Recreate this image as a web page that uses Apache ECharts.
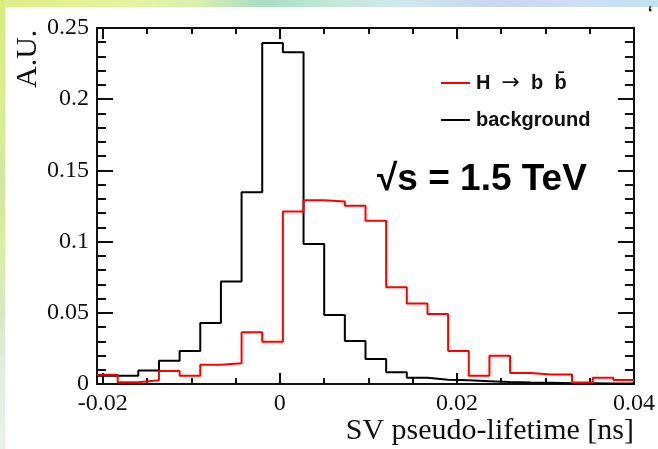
<!DOCTYPE html>
<html>
<head>
<meta charset="utf-8">
<script src="https://cdn.jsdelivr.net/npm/echarts@6/dist/echarts.min.js"></script>
<style>
  html, body { margin: 0; padding: 0; width: 658px; height: 449px; overflow: hidden; }
  #bgTop { position: absolute; left: 0; top: 0; width: 658px; height: 7px;
    background: linear-gradient(90deg, #dcee86 0%, #e6f3a0 20%, #d8efb0 30%, #a9dcc6 40%, #c7e9dc 52%, #cfe6ee 62%, #c9d5ef 75%, #cfdcf2 88%, #bfe3ef 100%); }
  #bgLeft { position: absolute; left: 0; top: 0; width: 5px; height: 449px;
    background: linear-gradient(180deg, #d6ec7e 0%, #d9ee8e 25%, #cfe6a0 40%, #dcefa0 55%, #d6e8c4 70%, #e2f0e0 85%, #e8f2ec 100%); }
  #white { position: absolute; left: 5px; top: 7px; width: 653px; height: 442px; background: #ffffff; }
  #chart { position: absolute; left: 0; top: 0; width: 658px; height: 449px; }
</style>
</head>
<body>
<div id="bgTop"></div>
<div id="bgLeft"></div>
<div id="white"></div>
<div id="chart"></div>
<script>
// ---- data ----
const BIN_LOW = -0.02065;
const BIN_HIGH = 0.04;
const N_BINS = 26;

const signalValues = [
  0.0065, 0.0012, 0.0026, 0.0091, 0.0058, 0.0136, 0.0145, 0.0363, 0.0297,
  0.1211, 0.1290, 0.1281, 0.1252, 0.1146, 0.0680, 0.0565, 0.0492, 0.0232,
  0.0058, 0.0199, 0.0077, 0.0066, 0.0066, 0.0010, 0.0044, 0.0028
];
const backgroundValues = [
  0.0058, 0.0058, 0.0094, 0.0164, 0.0232, 0.0429, 0.0719, 0.1347, 0.2395,
  0.2329, 0.0984, 0.0485, 0.0302, 0.0176, 0.0082, 0.0044, 0.0030, 0.0026,
  0.0020, 0.0014, 0.0010, 0.0008, 0.0006, 0.0005, 0.0004, 0.0003
];

const xMajorTicks = [-0.02, 0, 0.02, 0.04];
const xMinorTicks = [-0.015, -0.01, -0.005, 0.005, 0.01, 0.015, 0.025, 0.03, 0.035];
const yMajorTicks = [0, 0.05, 0.1, 0.15, 0.2, 0.25];
const yMinorTicks = [0.01, 0.02, 0.03, 0.04, 0.06, 0.07, 0.08, 0.09, 0.11, 0.12, 0.13, 0.14,
                     0.16, 0.17, 0.18, 0.19, 0.21, 0.22, 0.23, 0.24];

const seriesNames = { signal: 'H → b b̄', background: 'background' };
const xTitle = 'SV pseudo-lifetime [ns]';
const yTitle = 'A.U.';
const energyLabel = '√s = 1.5 TeV';

// ---- build step points from bin edges ----
function binEdge(k) { return BIN_LOW + (BIN_HIGH - BIN_LOW) * k / N_BINS; }
function histPoints(vals) {
  const pts = vals.map((v, k) => [binEdge(k), v]);
  pts.push([binEdge(vals.length), vals[vals.length - 1]]);
  return pts;
}

const SERIF = '"Liberation Serif", "DejaVu Serif", serif';
const SANS = '"Liberation Sans", Arial, sans-serif';
const INK = '#111';

function xAxisCfg(pos, ticks, len, showLine, showLabel) {
  return {
    type: 'value', position: pos, min: BIN_LOW, max: BIN_HIGH,
    splitLine: { show: false },
    axisLine: { show: showLine, onZero: false, lineStyle: { color: INK, width: 2 } },
    axisTick: { show: true, inside: true, length: len, customValues: ticks, lineStyle: { color: INK, width: 2 } },
    axisLabel: showLabel ? {
      show: true, customValues: ticks, margin: 8, color: INK,
      fontFamily: SERIF, fontSize: 24,
      formatter: v => String(Math.round(v * 1000) / 1000)
    } : { show: false }
  };
}
function yAxisCfg(pos, ticks, len, showLine, showLabel) {
  return {
    type: 'value', position: pos, min: 0, max: 0.25,
    splitLine: { show: false },
    axisLine: { show: showLine, onZero: false, lineStyle: { color: INK, width: 2 } },
    axisTick: { show: true, inside: true, length: len, customValues: ticks, lineStyle: { color: INK, width: 2 } },
    axisLabel: showLabel ? {
      show: true, customValues: ticks, margin: 8, color: INK,
      fontFamily: SERIF, fontSize: 24,
      formatter: v => String(Math.round(v * 1000) / 1000)
    } : { show: false }
  };
}

const chart = echarts.init(document.getElementById('chart'), null, { renderer: 'canvas' });
chart.setOption({
  backgroundColor: 'transparent',
  animation: false,
  grid: { left: 97, top: 28, right: 24, bottom: 65, containLabel: false },
  xAxis: [
    xAxisCfg('bottom', xMajorTicks, 11, true, true),
    xAxisCfg('bottom', xMinorTicks, 6, false, false),
    xAxisCfg('top', xMajorTicks, 11, true, false),
    xAxisCfg('top', xMinorTicks, 6, false, false)
  ],
  yAxis: [
    yAxisCfg('left', yMajorTicks, 16, true, true),
    yAxisCfg('left', yMinorTicks, 9, false, false),
    yAxisCfg('right', yMajorTicks, 16, true, false),
    yAxisCfg('right', yMinorTicks, 9, false, false)
  ],
  legend: {
    left: 441, top: 72, padding: 0, orient: 'vertical', itemGap: 16,
    itemWidth: 29, itemHeight: 2, icon: 'rect',
    data: [seriesNames.signal, seriesNames.background],
    textStyle: { fontFamily: SANS, fontWeight: 'bold', fontSize: 20, color: INK, padding: [0, 0, 0, 1],
      rich: {
        b: { fontFamily: SANS, fontWeight: 'bold', fontSize: 20, color: INK },
        a: { fontFamily: '"DejaVu Sans", sans-serif', fontWeight: 'normal', fontSize: 22, color: INK }
      }
    },
    formatter: function (name) {
      if (name === seriesNames.signal) return '{b|H}  {a|→}  {b|b}  {b|b̄}';
      return '{b|' + name + '}';
    }
  },
  series: [
    {
      name: seriesNames.background, type: 'line', step: 'end',
      xAxisIndex: 0, yAxisIndex: 0, showSymbol: false, symbol: 'none',
      lineStyle: { color: '#000', width: 2 }, itemStyle: { color: '#000' },
      data: histPoints(backgroundValues), z: 2
    },
    {
      name: seriesNames.signal, type: 'line', step: 'end',
      xAxisIndex: 0, yAxisIndex: 0, showSymbol: false, symbol: 'none',
      lineStyle: { color: '#ff0000', width: 2 }, itemStyle: { color: '#ff0000' },
      data: histPoints(signalValues), z: 3
    }
  ],
  graphic: [
    { type: 'text', x: 634, y: 416,
      style: { text: xTitle, font: '30px ' + SERIF, fill: INK, align: 'right', verticalAlign: 'top' } },
    { type: 'text', x: 13, y: 88, rotation: Math.PI / 2,
      style: { text: yTitle, font: '30px ' + SERIF, fill: INK, align: 'left', verticalAlign: 'top' } },
    { type: 'text', left: 377, top: 161,
      style: { text: energyLabel, font: 'bold 37px ' + SANS, fill: '#000' } },
    { type: 'text', left: 648, top: 6,
      style: { text: '‘', font: 'bold 16px ' + SANS, fill: '#000' } }
  ]
});
</script>
</body>
</html>
